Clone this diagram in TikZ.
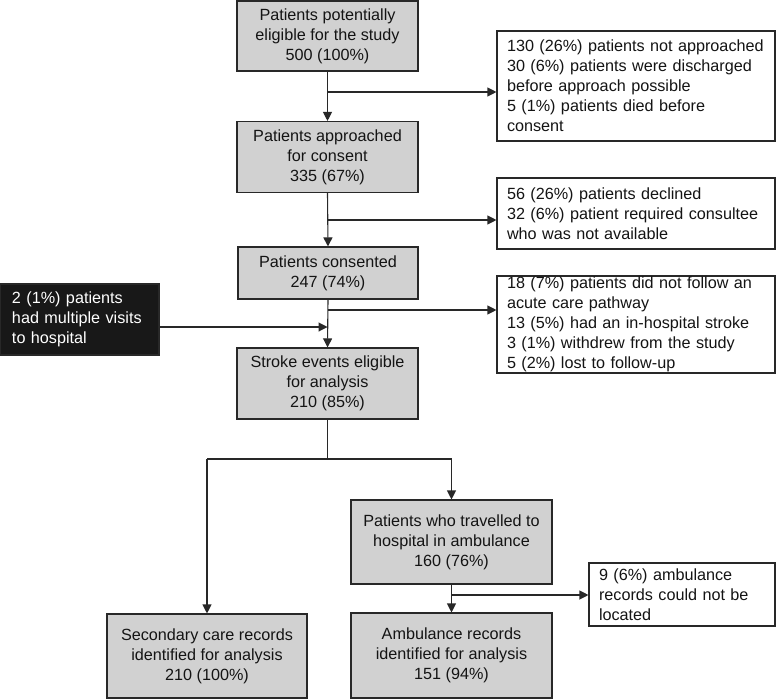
\documentclass[tikz,border=0pt]{standalone}
\usepackage{fontspec}
\setmainfont{Liberation Sans}
\usetikzlibrary{arrows.meta}
\definecolor{boxgray}{RGB}{209,209,209}
\definecolor{boxblack}{RGB}{24,24,24}
\definecolor{linegray}{RGB}{40,40,40}
\definecolor{textdark}{RGB}{20,20,20}
\begin{document}
\begin{tikzpicture}[x=1pt,y=-1pt,
  every node/.style={font=\fontsize{16.2}{20}\selectfont, text=textdark},
  gbox/.style={draw=linegray, line width=1.1pt, fill=boxgray, align=center, inner sep=0pt},
  wbox/.style={draw=linegray, line width=1.1pt, fill=white, align=left, inner xsep=10pt, inner ysep=0pt},
  kbox/.style={draw=linegray, line width=1.1pt, fill=boxblack, text=white, align=left, inner xsep=12pt, inner ysep=0pt},
  conn/.style={draw=linegray, line width=1.1pt},
  arr/.style={conn, -{Triangle[length=9pt,width=9pt]}}]
\useasboundingbox (0,0) rectangle (777,699);
\fill[white] (0,0) rectangle (777,699);

% main column
\node[gbox, minimum width=181pt, minimum height=70pt] (b1) at (327.5,36)
  {Patients potentially\\eligible for the study\\500 (100\%)};
\node[gbox, minimum width=181pt, minimum height=71pt] (b2) at (327.5,157)
  {Patients approached\\for consent\\335 (67\%)};
\node[gbox, minimum width=180pt, minimum height=52pt] (b3) at (328,273)
  {Patients consented\\247 (74\%)};
\node[gbox, minimum width=181pt, minimum height=71pt] (b4) at (327.5,383.5)
  {Stroke events eligible\\for analysis\\210 (85\%)};
\node[gbox, minimum width=201pt, minimum height=84pt] (b5) at (451.5,542)
  {Patients who travelled to\\hospital in ambulance\\160 (76\%)};
\node[gbox, minimum width=201pt, minimum height=85pt] (b6) at (451.5,655.5)
  {Ambulance records\\identified for analysis\\151 (94\%)};
\node[gbox, minimum width=200pt, minimum height=84pt] (b7) at (207,656)
  {Secondary care records\\identified for analysis\\210 (100\%)};

% side boxes
\node[wbox, text width=258pt, minimum height=110pt] (r1) at (636,86)
  {130 (26\%) patients not approached\\30 (6\%) patients were discharged\\before approach possible\\5 (1\%) patients died before\\consent};
\node[wbox, text width=258pt, minimum height=71pt] (r2) at (636,213.5)
  {56 (26\%) patients declined\\32 (6\%) patient required consultee\\who was not available};
\node[wbox, text width=258pt, minimum height=97pt] (r3) at (636,324.5)
  {18 (7\%) patients did not follow an\\acute care pathway\\13 (5\%) had an in-hospital stroke\\3 (1\%) withdrew from the study\\5 (2\%) lost to follow-up};
\node[wbox, text width=166pt, minimum height=63pt] (r4) at (682,594.5)
  {9 (6\%) ambulance\\records could not be\\located};
\node[kbox, text width=135pt, minimum height=71pt] (k) at (79.5,319.5)
  {2 (1\%) patients\\had multiple visits\\to hospital};

% junctions
\coordinate (j1) at (327.5,92);
\coordinate (j2) at (327.5,220);
\coordinate (j3) at (327.5,310);
\coordinate (j4) at (327.5,327);
\coordinate (j5) at (327.5,459);
\coordinate (jl) at (207,459);
\coordinate (jr) at (451.5,459);
\coordinate (j6) at (451.5,595);

% connectors
\draw[arr] (b1.south) -- (b2.north);
\draw[arr] (j1) -- (j1 -| r1.west);
\draw[arr] (b2.south) -- (b3.north);
\draw[arr] (j2) -- (j2 -| r2.west);
\draw[arr] (b3.south) -- (b4.north);
\draw[arr] (j3) -- (j3 -| r3.west);
\draw[arr] (k.east |- j4) -- (j4);
\draw[conn] (b4.south) -- (j5);
\draw[conn] (jl) -- (jr);
\draw[arr] (jl) -- (b7.north);
\draw[arr] (jr) -- (b5.north);
\draw[arr] (b5.south) -- (b6.north);
\draw[arr] (j6) -- (j6 -| r4.west);
\end{tikzpicture}
\end{document}
